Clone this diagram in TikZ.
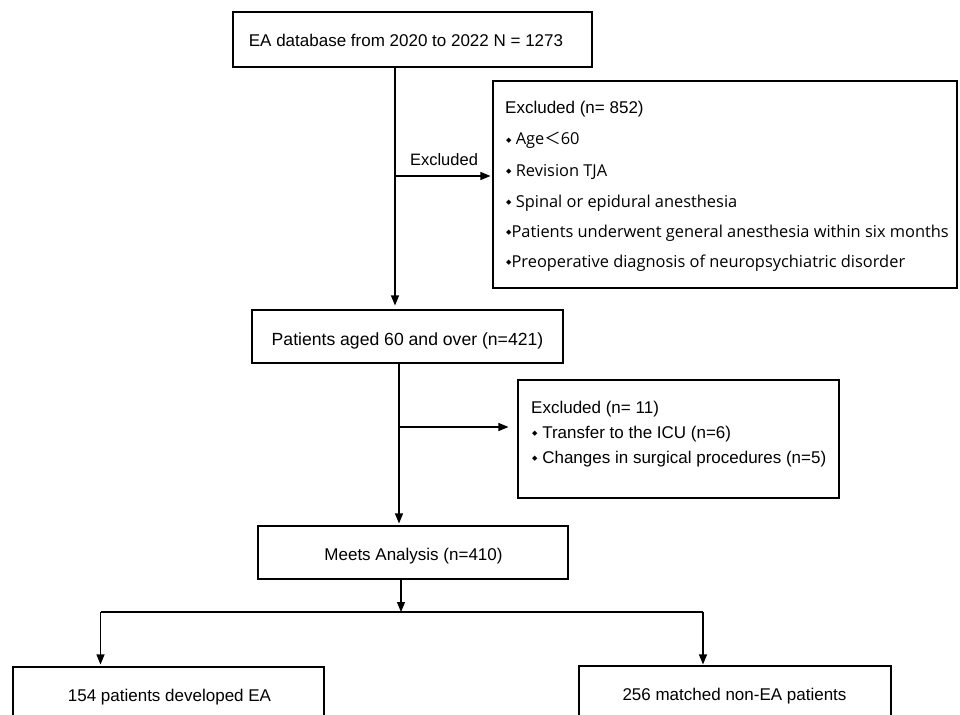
\documentclass[tikz,border=0pt]{standalone}
\usepackage{fontspec}
\setmainfont{Liberation Sans}
\newfontfamily\osans{Open Sans}
\newfontfamily\cjk{Noto Sans CJK SC}
\newfontfamily\djv{DejaVu Sans}
\usetikzlibrary{arrows.meta}
\newcommand{\dia}{\raisebox{0.28ex}{\djv\fontsize{7}{7}\selectfont ◆}}
\begin{document}
\begin{tikzpicture}[x=1pt,y=-1pt,
  box/.style={draw=black, line width=1.1pt, inner sep=0pt},
  txt/.style={inner sep=0pt, anchor=base, font=\fontsize{17}{20}\selectfont},
  ltxt/.style={inner sep=0pt, anchor=base west, font=\fontsize{17}{20}\selectfont},
  otxt/.style={inner sep=0pt, anchor=base west, font=\osans\fontsize{16.4}{20}\selectfont},
  ln/.style={draw=black, line width=1.1pt},
  arr/.style={ln, -{Triangle[length=10pt,width=8pt]}}]
\useasboundingbox (0,0) rectangle (960,714);
\clip (0,0) rectangle (960,714);
\fill[white] (0,0) rectangle (960,714);

% boxes
\node[box, minimum width=359pt, minimum height=55pt] (top) at (412.5,39.5) {};
\node[txt] (toptxt) at (406,46.5) {EA database from 2020 to 2022 N = 1273};

\node[box, minimum width=464pt, minimum height=207pt] (ex1) at (725,184.5) {};
\node[ltxt] (ex1a) at (505,114) {Excluded (n= 852)};
\node[otxt] (ex1b) at (506,145) {\dia\ Age{\cjk ＜}60};
\node[otxt] (ex1c) at (506,176) {\dia\ Revision TJA};
\node[otxt] (ex1d) at (506,207) {\dia\ Spinal or epidural anesthesia};
\node[otxt] (ex1e) at (506,237) {\dia Patients underwent general anesthesia within six months};
\node[otxt] (ex1f) at (506,267) {\dia Preoperative diagnosis of neuropsychiatric disorder};

\node[box, minimum width=311pt, minimum height=53pt] (p2) at (407.5,336.5) {};
\node[txt, font=\fontsize{17.6}{20}\selectfont] (p2txt) at (407.5,345.5) {Patients aged 60 and over (n=421)};

\node[box, minimum width=321pt, minimum height=118pt] (ex2) at (678.5,439) {};
\node[ltxt] (ex2a) at (531,413) {Excluded (n= 11)};
\node[ltxt] (ex2b) at (532,438) {\dia\ Transfer to the ICU (n=6)};
\node[ltxt] (ex2c) at (532,463) {\dia\ Changes in surgical procedures (n=5)};

\node[box, minimum width=310pt, minimum height=53pt] (meets) at (413,552.5) {};
\node[txt] (meetstxt) at (413.5,560) {Meets Analysis (n=410)};

\node[box, minimum width=311pt, minimum height=60pt] (lb) at (168.5,697) {};
\node[txt] (lbtxt) at (169.5,701.5) {154 patients developed EA};
\node[box, minimum width=312pt, minimum height=60pt] (rb) at (735,696) {};
\node[txt] (rbtxt) at (734.5,700) {256 matched non-EA patients};

% connectors
\coordinate (j1) at (395,176);
\draw[arr, shorten >=4pt] (top.south -| j1) -- (p2.north -| j1);
\draw[arr, shorten >=2pt] (j1) -- (ex1.west |- j1);
\node[txt, font=\fontsize{16.5}{20}\selectfont] (exlbl) at (444,166) {Excluded};

\coordinate (j2) at (399,427);
\draw[arr, shorten >=2pt] (p2.south -| j2) -- (meets.north -| j2);
\draw[arr, shorten >=9pt] (j2) -- (ex2.west |- j2);

\coordinate (j3) at (401,612);
\draw[arr] (meets.south -| j3) -- (j3);
\coordinate (bl) at (100.5,612);
\coordinate (br) at (703,612);
\draw[ln] (bl) -- (br);
\draw[arr, shorten >=2pt] (bl) -- (lb.north -| bl);
\draw[arr, shorten >=1pt] (br) -- (rb.north -| br);
\end{tikzpicture}
\end{document}
